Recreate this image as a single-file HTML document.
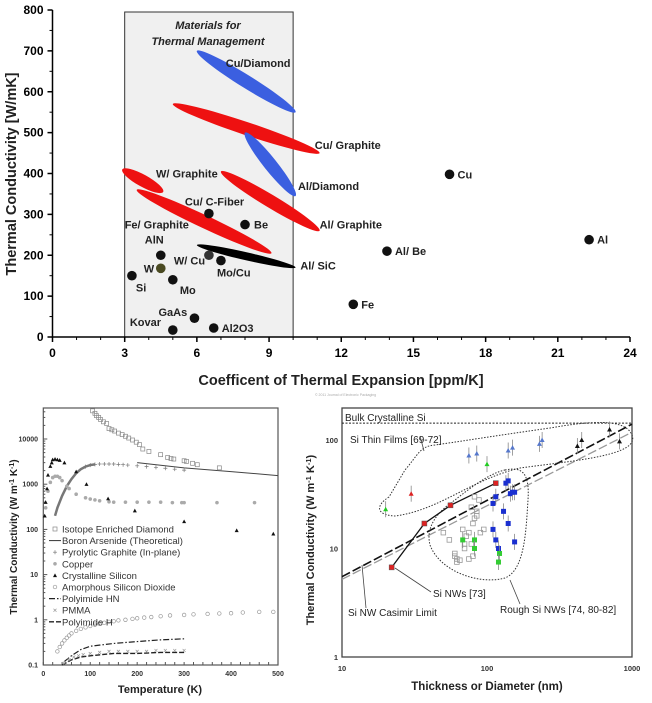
<!DOCTYPE html>
<html><head><meta charset="utf-8">
<style>
html,body{margin:0;padding:0;background:#fff;}
svg{display:block;font-family:"Liberation Sans",Arial,sans-serif;}
</style></head>
<body>
<svg id="root" width="652" height="703" viewBox="0 0 652 703"></svg>
<script>
// ---------- Chart 1 data ----------
const c1Composites = ["Cu/Diamond","Cu/ Graphite","Al/Diamond","W/ Graphite","Al/ Graphite","Fe/ Graphite","Al/ SiC"];
const c1CompX1 = [6.0, 5.0, 8.0, 2.9, 7.0, 3.5, 6.0];
const c1CompY1 = [700, 570, 500, 410, 405, 360, 225];
const c1CompX2 = [10.1, 11.1, 10.1, 4.6, 11.1, 9.1, 10.1];
const c1CompY2 = [550, 450, 345, 355, 260, 205, 170];
const c1CompColor = ["#3b5fe0","#ee1111","#3b5fe0","#ee1111","#ee1111","#ee1111","#000"];
const c1CompLabelX = [7.2, 10.9, 10.2, 4.3, 11.1, 3.0, 10.3];
const c1CompLabelY = [670, 470, 370, 400, 275, 275, 175];
const c1Materials = ["Cu","Al","Al/ Be","Fe","Cu/ C-Fiber","Be","AlN","W","W/ Cu","Mo/Cu","Si","Mo","GaAs","Kovar","Al2O3"];
const c1MatX = [16.5, 22.3, 13.9, 12.5, 6.5, 8.0, 4.5, 4.5, 6.5, 7.0, 3.3, 5.0, 5.9, 5.0, 6.7];
const c1MatY = [398, 238, 210, 80, 302, 275, 200, 168, 200, 187, 150, 140, 46, 17, 22];
const c1XTicks = [0,3,6,9,12,15,18,21,24];
const c1YTicks = [0,100,200,300,400,500,600,700,800];

// ---------- Chart 2 data ----------
const c2Ticks = [0,100,200,300,400,500];
const c2YTicks = [0.1,1,10,100,1000,10000];
const c2YLabels = ["0.1","1","10","100","1000","10000"];
const diamondT = [105,110,113,118,122,128,135,140,146,152,160,168,175,182,190,198,205,212,225,250,265,272,278,300,305,318,328,375];
const diamondK = [42000,37000,33000,30000,27000,24000,22000,17000,16000,15000,13500,12500,11500,10500,9500,8500,7500,6000,5300,4500,3900,3700,3600,3300,3200,2900,2700,2300];
const baT = [200,300,400,500];
const baK = [3000,2300,1900,1550];
const graphT = [25,30,40,50,60,70,80,90,100,110,120,130,140,150,160,170,180,200,220,240,260,280,300];
const graphK = [200,300,550,900,1300,1750,2150,2450,2650,2750,2800,2800,2800,2800,2750,2700,2650,2550,2450,2350,2250,2150,2050];
const cuT = [5,10,15,20,25,30,35,40,50,55,70,90,100,110,120,140,150,175,200,225,250,275,295,300,370,450];
const cuK = [300,700,1100,1400,1500,1500,1400,1200,900,800,600,500,470,450,430,410,400,400,400,400,400,390,390,390,390,390];
const siT = [3,5,8,10,15,18,20,25,30,35,45,70,92,138,195,300,412,490];
const siK = [200,400,800,1600,2500,3000,3500,3600,3500,3400,3000,1900,1000,480,260,150,95,80];
const sio2T = [30,35,40,45,50,55,60,70,80,90,100,110,120,130,140,150,160,175,190,200,215,230,250,270,300,320,350,375,400,425,460,490];
const sio2K = [0.2,0.25,0.3,0.35,0.4,0.45,0.5,0.57,0.63,0.68,0.73,0.78,0.82,0.86,0.9,0.93,0.97,1.0,1.05,1.08,1.12,1.15,1.2,1.25,1.28,1.32,1.35,1.38,1.4,1.45,1.5,1.5];
const hnT = [45,60,80,100,150,200,250,300];
const hnK = [0.12,0.16,0.22,0.26,0.3,0.33,0.36,0.38];
const pmmaT = [45,55,65,75,85,100,120,140,160,180,200,220,240,260,280,300];
const pmmaK = [0.11,0.13,0.15,0.16,0.17,0.18,0.19,0.2,0.2,0.2,0.2,0.2,0.21,0.21,0.21,0.21];
const phT = [40,60,80,100,150,200,250,300];
const phK = [0.1,0.13,0.15,0.16,0.18,0.18,0.19,0.19];
const c2Legend = ["Isotope Enriched Diamond","Boron Arsenide (Theoretical)","Pyrolytic Graphite (In-plane)","Copper","Crystalline Silicon","Amorphous Silicon Dioxide","Polyimide HN","PMMA","Polyimide H"];

// ---------- Chart 3 data ----------
const c3XTicks = [10,100,1000];
const c3YTicks = [1,10,100];
const bulkSi = 143;
const casD = [10,1000];
const casK = [5.5,140];
const cas2K = [5.2,118];
const nwD = [22,37,56,115];
const nwK = [6.7,17,25,40];
const triD = [20,100,30,75,85,140,150,230,240,420,450,700,820];
const triK = [23,60,32,72,75,80,85,92,100,88,100,125,97];
const triColor = ["#2c2","#2c2","#d22","#57c","#57c","#57c","#57c","#57c","#57c","#111","#111","#111","#111"];
const bsqD = [110,115,135,140,145,150,155,130,140,110,115,120,155];
const bsqK = [26,30,40,42,32,33,33,22,17,15,12,10,11.5];
const gsqD = [68,82,82,122,120];
const gsqK = [12,12,10,9,7.5];
const osqD = [50,55,60,62,65,68,70,72,75,78,80,82,85,90,95,60,62,70,75,80,85,88,78,82];
const osqK = [14,12,8.5,8,7.8,15,10,13,14,11,17,19,22,14,15,9,7.5,11,8,8.5,20,28,24,30];

const NS="http://www.w3.org/2000/svg";
const root=document.getElementById('root');
function mk(tag,attrs,parent,text){const e=document.createElementNS(NS,tag);for(const k in attrs)e.setAttribute(k,attrs[k]);if(text!==undefined)e.textContent=text;(parent||root).appendChild(e);return e;}

// ===== Chart 1 =====
const x1=v=>52.5+v*(630-52.5)/24;
const y1=v=>337-v*(337-10)/800;
let g1=mk('g',{});


let band=mk('rect',{x:x1(3),y:12,width:x1(10)-x1(3),height:y1(0)-12,fill:'#f0f0f0',stroke:'#333','stroke-width':1},g1);


let bt=mk('text',{x:208,y:29,'font-size':11,'font-weight':'bold','font-style':'italic','text-anchor':'middle',fill:'#222'},g1,'Materials for');


let bt2=mk('text',{x:208,y:45,'font-size':11,'font-weight':'bold','font-style':'italic','text-anchor':'middle',fill:'#222'},g1,'Thermal Management');


let ax1=mk('path',{d:`M${x1(0)},${y1(800)}V${y1(0)}H${x1(24)}`,fill:'none',stroke:'#000','stroke-width':1.5},g1);


c1XTicks.forEach(t=>{
  const tk=mk('line',{x1:x1(t),x2:x1(t),y1:y1(0),y2:y1(0)+5,stroke:'#000','stroke-width':1.5},g1);
  
  
  const tl=mk('text',{x:x1(t),y:y1(0)+20,'font-size':12,'font-weight':'bold','text-anchor':'middle'},g1,String(t));
  
  
});
for(let t=0;t<=24;t+=1){const m=mk('line',{x1:x1(t),x2:x1(t),y1:y1(0),y2:y1(0)+3,stroke:'#000'},g1);}
c1YTicks.forEach(t=>{
  const tk=mk('line',{x1:x1(0)-5,x2:x1(0),y1:y1(t),y2:y1(t),stroke:'#000','stroke-width':1.5},g1);
  
  
  const tl=mk('text',{x:x1(0)-9,y:y1(t)+4,'font-size':12,'font-weight':'bold','text-anchor':'end'},g1,String(t));
  
  
});
for(let t=0;t<=800;t+=50){const m=mk('line',{x1:x1(0)-3,x2:x1(0),y1:y1(t),y2:y1(t),stroke:'#000'},g1);}
let xt1=mk('text',{x:341,y:385,'font-size':14.5,'font-weight':'bold','text-anchor':'middle',fill:'#222'},g1,'Coefficent of Thermal Expansion [ppm/K]');


let yt1=mk('text',{x:0,y:0,'font-size':14.5,'font-weight':'bold','text-anchor':'middle',fill:'#222',transform:'translate(16,174) rotate(-90)'},g1,'Thermal Conductivity [W/mK]');


c1Composites.forEach((n,i)=>{
  const ax=x1(c1CompX1[i]),ay=y1(c1CompY1[i]),bx=x1(c1CompX2[i]),by=y1(c1CompY2[i]);
  const cx=(ax+bx)/2,cy=(ay+by)/2,len=Math.hypot(bx-ax,by-ay)/2,ang=Math.atan2(by-ay,bx-ax)*180/Math.PI;
  const e=mk('ellipse',{cx:cx,cy:cy,rx:len,ry:i===3?6:(i==6?4:6.5),fill:c1CompColor[i],transform:`rotate(${ang} ${cx} ${cy})`},g1);
  
  
  const t=mk('text',{x:x1(c1CompLabelX[i]),y:y1(c1CompLabelY[i])+4,'font-size':11,'font-weight':'bold',fill:'#222'},g1,n);
  
  
});
const labOff={"Cu":[8,4],"Al":[8,4],"Al/ Be":[8,4],"Fe":[8,4],"Cu/ C-Fiber":[-24,-8],"Be":[9,4],"AlN":[-16,-12],"W":[-17,4],"W/ Cu":[-35,9],"Mo/Cu":[-4,16],"Si":[4,16],"Mo":[7,14],"GaAs":[-36,-2],"Kovar":[-43,-4],"Al2O3":[8,4]};
c1Materials.forEach((n,i)=>{
  const c=mk('circle',{cx:x1(c1MatX[i]),cy:y1(c1MatY[i]),r:4.8,fill:n==='W'?'#4a4a22':(n==='W/ Cu'?'#333':'#111')},g1);
  
  
  const o=labOff[n];
  const t=mk('text',{x:x1(c1MatX[i])+o[0],y:y1(c1MatY[i])+o[1],'font-size':11,'font-weight':'bold',fill:'#222'},g1,n);
  
  
});
let cr=mk('text',{x:315,y:396,'font-size':3.5,fill:'#aaa'},root,'© 2011 Journal of Electronic Packaging');



// ===== Chart 2 =====
const x2=v=>43.3+v*(278-43.3)/500;
const y2=v=>665-(Math.log10(v)+1)*45.2;
let g2=mk('g',{});


let fr2=mk('rect',{x:43.3,y:408,width:278-43.3,height:257,fill:'none',stroke:'#555','stroke-width':1.2},g2);


c2Ticks.forEach(t=>{
  const l=mk('text',{x:x2(t),y:676,'font-size':7,'font-weight':'bold','text-anchor':'middle',fill:'#333'},g2,String(t));
  
  
});
for(let t=0;t<=500;t+=20){const m=mk('line',{x1:x2(t),x2:x2(t),y1:665,y2:662,stroke:'#555'},g2);}
c2YTicks.forEach((t,i)=>{
  const l=mk('text',{x:38,y:y2(t)+2.5,'font-size':7,'font-weight':'bold','text-anchor':'end',fill:'#333'},g2,c2YLabels[i]);
  
  
  for(let k=1;k<10;k++){const v=t*k;if(y2(v)<408)break;const m=mk('line',{x1:43.3,x2:43.3+(k===1?4:2),y1:y2(v),y2:y2(v),stroke:'#555'},g2);}
});
let xt2=mk('text',{x:160,y:693,'font-size':11,'font-weight':'bold','text-anchor':'middle',fill:'#222'},g2,'Temperature (K)');


let yt2=mk('text',{x:0,y:0,'font-size':10,'font-weight':'bold','text-anchor':'middle',fill:'#222',transform:'translate(17,537) rotate(-90)'},g2);
yt2.innerHTML='Thermal Conductivity (W m<tspan dy="-3" font-size="7">-1</tspan><tspan dy="3"> K</tspan><tspan dy="-3" font-size="7">-1</tspan><tspan dy="3">)</tspan>';


function poly(xs,ys,fx,fy,attrs,g){return mk('polyline',Object.assign({points:xs.map((v,i)=>fx(v)+','+fy(ys[i])).join(' '),fill:'none'},attrs),g);}
let ba=poly(baT,baK,x2,y2,{stroke:'#444','stroke-width':1},g2);


let gl=poly(graphT.slice(0,10),graphK.slice(0,10),x2,y2,{stroke:'#777','stroke-width':2.5},g2);


let hn=poly(hnT,hnK,x2,y2,{stroke:'#222','stroke-width':1.2,'stroke-dasharray':'6 2 1.5 2'},g2);


let ph=poly(phT,phK,x2,y2,{stroke:'#222','stroke-width':1.4,'stroke-dasharray':'5 2'},g2);


diamondT.forEach((t,i)=>{const r=mk('rect',{x:x2(t)-2,y:y2(diamondK[i])-2,width:4,height:4,fill:'none',stroke:'#888','stroke-width':0.7},g2);});
graphT.forEach((t,i)=>{if(t<90)return;const p=mk('path',{d:`M${x2(t)-2},${y2(graphK[i])}h4M${x2(t)},${y2(graphK[i])-2}v4`,stroke:'#777','stroke-width':0.7},g2);});
cuT.forEach((t,i)=>{const c=mk('circle',{cx:x2(t),cy:y2(cuK[i]),r:1.8,fill:'#aaa'},g2);});
siT.forEach((t,i)=>{const x=x2(t),y=y2(siK[i]);const p=mk('path',{d:`M${x-2},${y+1.7}L${x},${y-2}L${x+2},${y+1.7}Z`,fill:'#111'},g2);});
sio2T.forEach((t,i)=>{const c=mk('circle',{cx:x2(t),cy:y2(sio2K[i]),r:1.8,fill:'none',stroke:'#999','stroke-width':0.7},g2);});
pmmaT.forEach((t,i)=>{const x=x2(t),y=y2(pmmaK[i]);const p=mk('path',{d:`M${x-1.5},${y-1.5}l3,3M${x+1.5},${y-1.5}l-3,3`,stroke:'#999','stroke-width':0.7},g2);});
c2Legend.forEach((n,i)=>{
  const y=529+i*11.6;
  let m;
  if(i===0) m=mk('rect',{x:53,y:y-2,width:4,height:4,fill:'none',stroke:'#888','stroke-width':0.7},g2);
  else if(i===1) m=mk('line',{x1:49,x2:61,y1:y,y2:y,stroke:'#333'},g2);
  else if(i===2) m=mk('path',{d:`M53,${y}h4M55,${y-2}v4`,stroke:'#777','stroke-width':0.7},g2);
  else if(i===3) m=mk('circle',{cx:55,cy:y,r:1.8,fill:'#aaa'},g2);
  else if(i===4) m=mk('path',{d:`M53,${y+1.7}L55,${y-2}L57,${y+1.7}Z`,fill:'#111'},g2);
  else if(i===5) m=mk('circle',{cx:55,cy:y,r:1.8,fill:'none',stroke:'#999','stroke-width':0.7},g2);
  else if(i===6) m=mk('line',{x1:49,x2:61,y1:y,y2:y,stroke:'#222','stroke-width':1.2,'stroke-dasharray':'6 2 1.5 2'},g2);
  else if(i===7) m=mk('path',{d:`M53.5,${y-1.5}l3,3M56.5,${y-1.5}l-3,3`,stroke:'#999','stroke-width':0.7},g2);
  else m=mk('line',{x1:49,x2:61,y1:y,y2:y,stroke:'#222','stroke-width':1.4,'stroke-dasharray':'5 2'},g2);
  
  
  const t=mk('text',{x:62,y:y+3.5,'font-size':9.5,fill:'#333'},g2,n);
  
  
});

// ===== Chart 3 =====
const x3=v=>342+Math.log10(v/10)*145;
const y3=v=>657-Math.log10(v)*108.5;
let g3=mk('g',{});


let fr3=mk('rect',{x:342,y:408,width:290,height:249,fill:'none',stroke:'#444','stroke-width':1.3},g3);


c3XTicks.forEach(t=>{const l=mk('text',{x:x3(t),y:671,'font-size':7.5,'font-weight':'bold','text-anchor':'middle',fill:'#333'},g3,String(t));});
c3YTicks.forEach(t=>{const l=mk('text',{x:338,y:y3(t)+3,'font-size':7.5,'font-weight':'bold','text-anchor':'end',fill:'#333'},g3,String(t));});
let xt3=mk('text',{x:487,y:690,'font-size':11.5,'font-weight':'bold','text-anchor':'middle',fill:'#222'},g3,'Thickness or Diameter (nm)');


let yt3=mk('text',{x:0,y:0,'font-size':11,'font-weight':'bold','text-anchor':'middle',fill:'#222',transform:'translate(314,540) rotate(-90)'},g3);
yt3.innerHTML='Thermal Conductivity (W m<tspan dy="-3" font-size="7.5">-1</tspan><tspan dy="3"> K</tspan><tspan dy="-3" font-size="7.5">-1</tspan><tspan dy="3">)</tspan>';


let bl=mk('line',{x1:342,x2:632,y1:y3(bulkSi),y2:y3(bulkSi),stroke:'#222','stroke-width':1,'stroke-dasharray':'2 1.5'},g3);


let c2l=poly(casD,cas2K,x3,y3,{stroke:'#999','stroke-width':1.3,'stroke-dasharray':'9 3'},g3);


let cl=poly(casD,casK,x3,y3,{stroke:'#111','stroke-width':1.6,'stroke-dasharray':'9 3'},g3);


let o1=mk('path',{d:'M389,497 C376,505 375,515 395,516 C440,510 470,480 520,468 C580,460 640,455 632,435 C625,418 590,421 550,428 C480,438 470,440 435,445 C420,446 418,455 405,470 Z',fill:'none',stroke:'#333','stroke-width':1,'stroke-dasharray':'1.5 1.5'},g3);


let o2=mk('path',{d:'M505,470 C520,467 530,470 528,500 C526,530 525,570 505,578 C480,585 440,572 430,545 C425,525 440,510 455,500 C470,488 490,473 505,470 Z',fill:'none',stroke:'#333','stroke-width':1,'stroke-dasharray':'1.5 1.5'},g3);


let nwl=poly(nwD,nwK,x3,y3,{stroke:'#111','stroke-width':1.3},g3);


osqD.forEach((d,i)=>{const r=mk('rect',{x:x3(d)-2.3,y:y3(osqK[i])-2.3,width:4.6,height:4.6,fill:'none',stroke:'#999','stroke-width':0.8},g3);});
function errbar(x,y,g){const e=mk('line',{x1:x,x2:x,y1:y-8,y2:y+8,stroke:'#888','stroke-width':0.8},g);}
bsqD.forEach((d,i)=>{errbar(x3(d),y3(bsqK[i]),g3);const r=mk('rect',{x:x3(d)-2.5,y:y3(bsqK[i])-2.5,width:5,height:5,fill:'#1a2fd0'},g3);});
gsqD.forEach((d,i)=>{errbar(x3(d),y3(gsqK[i]),g3);const r=mk('rect',{x:x3(d)-2.5,y:y3(gsqK[i])-2.5,width:5,height:5,fill:'#33cc33'},g3);});
triD.forEach((d,i)=>{const x=x3(d),y=y3(triK[i]);errbar(x,y,g3);const p=mk('path',{d:`M${x-2.5},${y+2}L${x},${y-2.5}L${x+2.5},${y+2}Z`,fill:triColor[i]},g3);});
nwD.forEach((d,i)=>{const r=mk('rect',{x:x3(d)-2.5,y:y3(nwK[i])-2.5,width:5,height:5,fill:'#d22',stroke:'#555','stroke-width':0.5},g3);});
const annT=["Bulk Crystalline Si","Si Thin Films [69-72]","Si NWs [73]","Si NW Casimir Limit","Rough Si NWs [74, 80-82]"];
const annX=[345,350,433,348,500];
const annY=[421,443,597,616,613];
annT.forEach((n,i)=>{const t=mk('text',{x:annX[i],y:annY[i],'font-size':10,fill:'#222'},g3,n);});
const arrows=["M420,436 L424,451","M431,592 L395,568","M366,608 L362,565","M520,604 L510,580"];
arrows.forEach(d=>{const a=mk('path',{d:d,stroke:'#444','stroke-width':0.8,fill:'none'},g3);});
</script>
</body></html>
